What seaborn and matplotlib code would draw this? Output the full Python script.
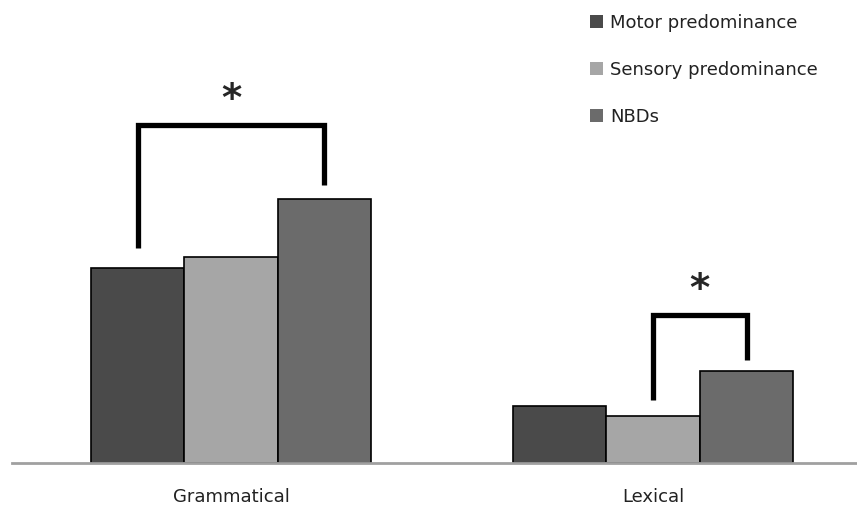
import pandas as pd
import numpy as np
import seaborn as sns
import matplotlib.pyplot as plt
from matplotlib.patches import Patch

# Grouped bar chart: Motor / Sensory predominance vs NBDs, with significance brackets.

tasks = ["Grammatical", "Lexical"]
groups = ["Motor predominance", "Sensory predominance", "NBDs"]
motor = [3.90, 1.14]
sensory = [4.12, 0.94]
nbds = [5.28, 1.84]
colors = ["#4a4a4a", "#a6a6a6", "#6b6b6b"]

df = pd.DataFrame({
    "task": tasks * 3,
    "group": np.repeat(groups, len(tasks)),
    "value": motor + sensory + nbds,
})

sns.set_style("white")
plt.rcParams["font.family"] = ["DejaVu Sans"]

fig = plt.figure(figsize=(8.57, 5.09), dpi=100)
ax = fig.add_axes([12 / 857, 46 / 509, 845 / 857, 463 / 509])

sns.barplot(data=df, x="task", y="value", hue="group", hue_order=groups,
            palette=colors, width=0.664, edgecolor="black", linewidth=1.2,
            saturation=1, legend=False, ax=ax)

ax.set_xlim(-0.519, 1.483)
ax.set_ylim(0, 9.26)
ax.set_xlabel("")
ax.set_ylabel("")
ax.set_yticks([])
ax.tick_params(axis="x", length=0, pad=18, labelsize=13, labelcolor="#222222")
for s in ["top", "right", "left"]:
    ax.spines[s].set_visible(False)
ax.spines["bottom"].set_color("#a0a0a0")
ax.spines["bottom"].set_linewidth(2)

# bar centres per group, taken from the drawn patches
centres = {}
for cont, g in zip(ax.containers, groups):
    centres[g] = [p.get_x() + p.get_width() / 2 for p in cont.patches]

vals = {"Motor predominance": motor, "Sensory predominance": sensory, "NBDs": nbds}


def bracket(i, g1, g2, top, gap1, gap2):
    x1, x2 = centres[g1][i], centres[g2][i]
    y1 = vals[g1][i] + gap1
    y2 = vals[g2][i] + gap2
    ax.plot([x1, x1, x2, x2], [y1, top, top, y2], color="black", lw=3.8,
            solid_capstyle="butt", solid_joinstyle="miter")
    ax.text((x1 + x2) / 2, top + 0.12, "*", ha="center", va="bottom",
            fontsize=28, fontweight="bold")


bracket(0, "Motor predominance", "NBDs", 6.76, 0.4, 0.28)
bracket(1, "Sensory predominance", "NBDs", 2.96, 0.32, 0.22)

handles = [Patch(facecolor=c, edgecolor="none") for c in colors]
ax.legend(handles, groups, loc="upper left", bbox_to_anchor=(0.665, 1.005),
          frameon=False, fontsize=13, handlelength=0.7, handleheight=0.7,
          handletextpad=0.4, labelspacing=1.6, labelcolor="#222222")

fig.savefig("out.png", dpi=100)
